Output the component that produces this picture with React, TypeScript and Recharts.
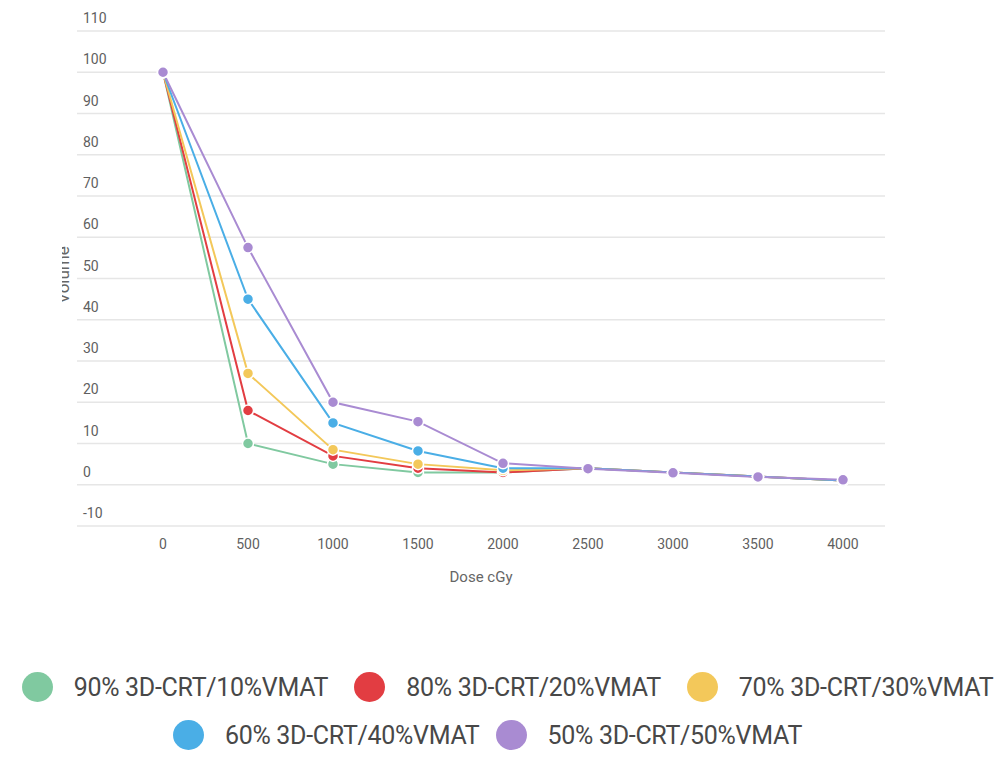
import React from 'react';
import { LineChart, Line, XAxis, YAxis, CartesianGrid, Legend } from 'recharts';

const doses = [0, 500, 1000, 1500, 2000, 2500, 3000, 3500, 4000];
const s90 = [100, 10, 5, 3, 3, 4, 3, 2, 1];
const s80 = [100, 18, 7, 4, 3, 4, 3, 2, 1];
const s70 = [100, 27, 8.5, 5, 3.5, 4, 3, 2, 1];
const s60 = [100, 45, 15, 8.2, 4, 4, 3, 2, 1];
const s50 = [100, 57.5, 20, 15.3, 5.2, 3.9, 2.9, 1.9, 1.2];
const yTicks = [-10, 0, 10, 20, 30, 40, 50, 60, 70, 80, 90, 100, 110];
const xTicks = [0, 500, 1000, 1500, 2000, 2500, 3000, 3500, 4000];

const seriesNames = [
  '90% 3D-CRT/10%VMAT',
  '80% 3D-CRT/20%VMAT',
  '70% 3D-CRT/30%VMAT',
  '60% 3D-CRT/40%VMAT',
  '50% 3D-CRT/50%VMAT',
];
const seriesColors = ['#80c9a0', '#e23d42', '#f3c85a', '#4aaee6', '#a98bd2'];
const seriesData = [s90, s80, s70, s60, s50];

const data = doses.map((d, i) => {
  const row: any = { dose: d };
  seriesNames.forEach((n, k) => {
    row['s' + k] = seriesData[k][i];
  });
  return row;
});

const FONT = 'Roboto, "Open Sans", sans-serif';

const YTick = (props: any) => {
  const { y, payload } = props;
  return (
    <text x={83} y={y - 8} textAnchor="start" fill="#5f5f5f" fontSize={14} fontFamily={FONT}>
      {payload.value}
    </text>
  );
};

const YLabel = () => (
  <g>
    <defs>
      <clipPath id="ylabclip">
        <rect x={62} y={150} width={40} height={250} />
      </clipPath>
    </defs>
    <g clipPath="url(#ylabclip)">
      <text
        x={0}
        y={0}
        transform="translate(69,275) rotate(-90)"
        textAnchor="middle"
        fill="#666"
        fontSize={17}
        fontFamily={FONT}
      >
        Volume
      </text>
    </g>
  </g>
);

const LegendItem = ({ name, color, gap }: { name: string; color: string; gap: number }) => (
  <div style={{ display: 'flex', alignItems: 'center', margin: `0 ${gap}px` }}>
    <div
      style={{
        width: 31,
        height: 30,
        borderRadius: '50%',
        background: color,
        marginRight: 21,
        flexShrink: 0,
      }}
    />
    <span style={{ fontSize: 25, color: '#484848', fontFamily: FONT, whiteSpace: 'nowrap', letterSpacing: -0.3 }}>{name}</span>
  </div>
);

const LegendContent = () => (
  <div style={{ width: 1005 }}>
    <div style={{ display: 'flex', justifyContent: 'center', height: 48, alignItems: 'center', marginLeft: 10 }}>
      {[0, 1, 2].map((k) => (
        <LegendItem key={k} name={seriesNames[k]} color={seriesColors[k]} gap={13} />
      ))}
    </div>
    <div style={{ display: 'flex', justifyContent: 'center', height: 48, alignItems: 'center', marginLeft: -30 }}>
      {[3, 4].map((k) => (
        <LegendItem key={k} name={seriesNames[k]} color={seriesColors[k]} gap={8} />
      ))}
    </div>
  </div>
);

export default function App() {
  return (
    <div style={{ position: 'absolute', left: 0, top: 0, width: 1005, height: 767, background: '#fff' }}>
      <LineChart
        width={1005}
        height={767}
        data={data}
        margin={{ top: 31, right: 120, bottom: 181, left: 0 }}
      >
        <CartesianGrid vertical={false} stroke="#e6e6e6" strokeWidth={1.5} />
        <XAxis
          dataKey="dose"
          type="number"
          domain={[0, 4000]}
          ticks={xTicks}
          padding={{ left: 86, right: 42 }}
          axisLine={false}
          tickLine={false}
          tickSize={0}
          tickMargin={13}
          height={60}
          tick={{ fill: '#5f5f5f', fontSize: 14, fontFamily: FONT }}
          label={{ value: 'Dose cGy', position: 'insideBottom', offset: 4, fill: '#666', fontSize: 15, fontFamily: FONT }}
        />
        <YAxis
          type="number"
          domain={[-10, 110]}
          ticks={yTicks}
          width={77}
          axisLine={false}
          tickLine={false}
          tick={<YTick />}
          label={<YLabel />}
        />
        <Legend
          layout="horizontal"
          verticalAlign="middle"
          align="center"
          wrapperStyle={{ position: 'absolute', top: 663, left: 0, width: 1005 }}
          content={<LegendContent />}
        />
        {seriesNames.map((n, k) => (
          <Line
            key={n}
            dataKey={'s' + k}
            name={n}
            type="linear"
            stroke={seriesColors[k]}
            strokeWidth={2}
            dot={{ r: 5.5, fill: seriesColors[k], stroke: '#fff', strokeWidth: 1.5 }}
            isAnimationActive={false}
          />
        ))}
      </LineChart>
    </div>
  );
}
